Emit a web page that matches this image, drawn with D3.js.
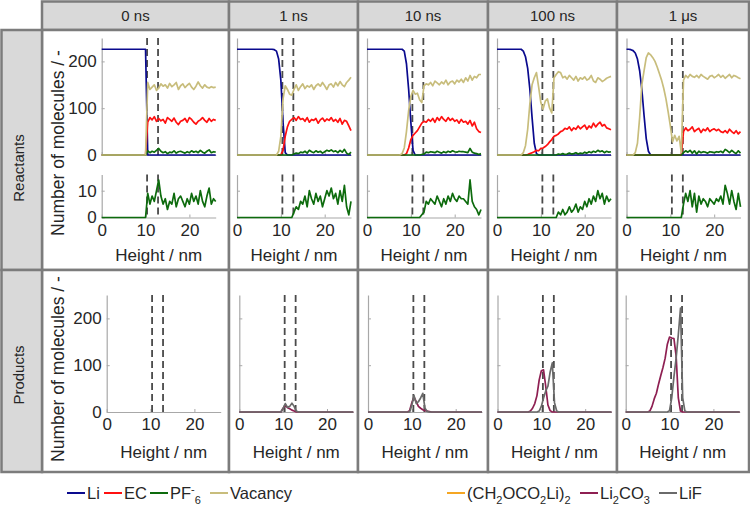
<!DOCTYPE html>
<html>
<head>
<meta charset="utf-8">
<script src="https://cdn.jsdelivr.net/npm/d3@7"></script>
<style>
  body { margin: 0; background: #fff; }
  text { font-family: "Liberation Sans", Arial, sans-serif; fill: #262626; }
</style>
</head>
<body>
<script>
// Height bins (nm)
var heightNm = [0,0.5,1,1.5,2,2.5,3,3.5,4,4.5,5,5.5,6,6.5,7,7.5,8,8.5,9,9.5,10,10.5,11,11.5,12,12.5,13,13.5,14,14.5,15,15.5,16,16.5,17,17.5,18,18.5,19,19.5,20,20.5,21,21.5,22,22.5,23,23.5,24,24.5,25,25.5,26];

var timeLabels = ["0 ns", "1 ns", "10 ns", "100 ns", "1 \u03bcs"];
var rowLabels = ["Reactants", "Products"];
var interfaceNm = [10.35, 12.85];
var countTicks = [0, 100, 200];
var pfTicks = [0, 10];
var heightTicks = [0, 10, 20];

// ---- Reactants, 0 ns
var li0ns = [226,226,226,226,226,226,226,226,226,226,
  226,226,226,226,226,226,226,226,226,226,
  226,0,0,0,0,0,0,0,0,0,
  0,0,0,0,0,0,0,0,0,0,
  0,0,0,0,0,0,0,0,0,0,
  0,0,0];
var ec0ns = [0,0,0,0,0,0,0,0,0,0,
  0,0,0,0,0,0,0,0,0,0,
  0,70,80,75,82,72,78,73,76,68,
  80,76,72,79,70,65,72,74,78,70,
  80,76,70,66,72,75,80,74,70,78,
  72,76,74];
var pf0ns = [0,0,0,0,0,0,0,0,0,0,
  0,0,0,0,0,0,0,0,0,0,
  0,9,5,8,6,10,14,8,5,7,
  3,6,5,9,4,7,8,6,4,7,
  5,9,6,8,5,10,6,4,8,11,
  5,7,6];
var vac0ns = [0,0,0,0,0,0,0,0,0,0,
  0,0,0,0,0,0,0,0,0,0,
  0,155,140,145,150,138,143,152,147,150,
  143,153,146,150,155,140,148,152,144,149,
  153,145,140,147,156,148,143,150,145,143,
  146,144,145];

// ---- Reactants, 1 ns
var li1ns = [226,226,226,226,226,226,226,226,226,226,
  226,226,226,226,226,226,226,225,222,205,
  160,70,5,0,0,0,0,0,0,0,
  0,0,0,0,0,0,0,0,0,0,
  0,0,0,0,0,0,0,0,0,0,
  0,0,0];
var ec1ns = [0,0,0,0,0,0,0,0,0,0,
  0,0,0,0,0,0,0,0,0,0,
  0,10,40,60,72,76,80,74,82,76,
  78,72,80,70,76,74,78,68,75,79,
  72,77,74,80,72,76,70,78,66,74,
  72,62,52];
var pf1ns = [0,0,0,0,0,0,0,0,0,0,
  0,0,0,0,0,0,0,0,0,0,
  0,0,0,0,0,0,2,4,3,6,
  5,8,4,10,7,5,9,6,8,4,
  7,10,8,11,7,9,5,10,6,12,
  4,1,6];
var vac1ns = [0,0,0,0,0,0,0,0,0,0,
  0,0,0,0,0,0,0,0,0,8,
  40,120,148,140,130,128,140,150,138,146,
  152,142,148,145,150,140,148,152,147,155,
  148,140,150,152,145,155,148,157,150,146,
  155,160,166];

// ---- Reactants, 10 ns
var li10ns = [226,226,226,226,226,226,226,226,226,226,
  226,226,226,226,226,226,226,222,195,140,
  70,10,0,0,0,0,0,0,0,0,
  0,0,0,0,0,0,0,0,0,0,
  0,0,0,0,0,0,0,0,0,0,
  0,0,0];
var ec10ns = [0,0,0,0,0,0,0,0,0,0,
  0,0,0,0,0,0,0,0,3,15,
  33,42,47,52,60,68,72,70,76,72,
  78,70,80,74,82,76,72,80,74,78,
  72,75,68,76,70,72,66,74,62,70,
  56,50,48];
var pf10ns = [0,0,0,0,0,0,0,0,0,0,
  0,0,0,0,0,0,0,0,0,0,
  0,0,0,0,0,1,2,6,5,7,
  6,5,8,6,4,7,5,8,6,9,
  7,6,8,7,7,6,5,14,6,4,
  3,1,3];
var vac10ns = [0,0,0,0,0,0,0,0,0,0,
  0,0,0,0,0,0,3,15,50,95,
  125,138,130,132,118,112,148,152,150,155,
  148,158,154,150,156,152,160,150,156,158,
  152,160,156,162,155,165,158,170,160,168,
  165,172,172];

// ---- Reactants, 100 ns
var li100ns = [226,226,226,226,226,226,226,226,226,226,
  226,226,222,210,185,140,80,25,3,0,
  0,0,0,0,0,0,0,0,0,0,
  0,0,0,0,0,0,0,0,0,0,
  0,0,0,0,0,0,0,0,0,0,
  0,0,0];
var ec100ns = [0,0,0,0,0,0,0,0,0,0,
  0,0,0,0,1,3,5,7,10,9,
  14,15,18,22,28,33,40,42,45,50,
  52,57,55,60,52,58,55,62,56,60,
  64,55,62,58,68,60,66,70,62,65,
  58,56,54];
var pf100ns = [0,0,0,0,0,0,0,0,0,0,
  0,0,0,0,0,0,0,0,0,0,
  0,0,0,0,0,0,0,0,2,1,
  3,1,2,4,2,3,5,2,4,3,
  6,4,7,5,8,6,10,7,9,5,
  8,6,7];
var vac100ns = [0,0,0,0,0,0,0,0,0,0,
  0,0,5,20,55,110,150,165,176,145,
  112,98,115,120,100,90,165,172,178,176,
  165,168,162,170,165,160,168,158,165,162,
  167,160,163,170,158,155,165,162,157,160,
  164,166,168];

// ---- Reactants, 1 us
var li1us = [226,226,225,223,218,205,180,140,85,35,
  8,0,0,0,0,0,0,0,0,0,
  0,0,0,0,0,0,0,0,0,0,
  0,0,0,0,0,0,0,0,0,0,
  0,0,0,0,0,0,0,0,0,0,
  0,0,0];
var ec1us = [0,0,0,0,0,0,0,0,0,0,
  0,0,0,0,0,0,0,0,0,0,
  0,0,0,0,0,0,50,58,52,55,
  60,50,54,57,48,55,52,58,50,54,
  56,52,55,50,48,52,47,55,50,46,
  52,45,50];
var pf1us = [0,0,0,0,0,0,0,0,0,0,
  0,0,0,0,0,0,0,0,0,0,
  0,0,0,0,0,0,5,9,6,10,
  4,9,2,8,5,7,6,4,7,6,
  5,7,6,8,5,12,9,5,10,6,
  3,9,4];
var vac1us = [0,0,0,0,5,25,80,150,180,208,
  218,214,208,200,188,174,160,142,120,92,
  62,28,42,30,40,5,160,170,165,172,
  168,166,170,165,172,168,165,162,168,170,
  165,168,172,166,170,164,168,172,165,170,
  168,165,163];

// ---- Products ((CH2OCO2Li)2 is listed in the legend but not visible in any panel)
var li2co3_1ns = [0,0,0,0,0,0,0,0,0,0,
  0,0,0,0,0,0,0,0,0,0,
  8,14,9,7,4,2,0,0,0,0,
  0,0,0,0,0,0,0,0,0,0,
  0,0,0,0,0,0,0,0,0,0,
  0,0,0];
var lif_1ns = [0,0,0,0,0,0,0,0,0,0,
  0,0,0,0,0,0,0,0,0,0,
  8,18,10,12,19,12,2,0,0,0,
  0,0,0,0,0,0,0,0,0,0,
  0,0,0,0,0,0,0,0,0,0,
  0,0,0];
var li2co3_10ns = [0,0,0,0,0,0,0,0,0,0,
  0,0,0,0,0,0,0,0,0,3,
  20,32,22,12,8,5,3,2,1,0,
  0,0,0,0,0,0,0,0,0,0,
  0,0,0,0,0,0,0,0,0,0,
  0,0,0];
var lif_10ns = [0,0,0,0,0,0,0,0,0,0,
  0,0,0,0,0,0,0,0,0,0,
  15,35,18,22,30,40,8,1,0,0,
  0,0,0,0,0,0,0,0,0,0,
  0,0,0,0,0,0,0,0,0,0,
  0,0,0];
var li2co3_100ns = [0,0,0,0,0,0,0,0,0,0,
  0,0,0,0,0,2,8,18,35,68,
  88,90,55,15,3,0,0,0,0,0,
  0,0,0,0,0,0,0,0,0,0,
  0,0,0,0,0,0,0,0,0,0,
  0,0,0];
var lif_100ns = [0,0,0,0,0,0,0,0,0,0,
  0,0,0,0,0,0,0,0,0,2,
  12,30,45,55,85,105,20,2,0,0,
  0,0,0,0,0,0,0,0,0,0,
  0,0,0,0,0,0,0,0,0,0,
  0,0,0];
var li2co3_1us = [0,0,0,0,0,0,0,0,0,0,
  0,2,12,28,40,60,78,95,115,145,
  160,158,157,120,30,2,0,0,0,0,
  0,0,0,0,0,0,0,0,0,0,
  0,0,0,0,0,0,0,0,0,0,
  0,0,0];
var lif_1us = [0,0,0,0,0,0,0,0,0,0,
  0,0,0,0,0,0,0,0,0,0,
  3,30,75,115,165,222,30,2,0,0,
  0,0,0,0,0,0,0,0,0,0,
  0,0,0,0,0,0,0,0,0,0,
  0,0,0];

var reactantSets = [
  [li0ns, ec0ns, pf0ns, vac0ns],
  [li1ns, ec1ns, pf1ns, vac1ns],
  [li10ns, ec10ns, pf10ns, vac10ns],
  [li100ns, ec100ns, pf100ns, vac100ns],
  [li1us, ec1us, pf1us, vac1us]
];
var productSets = [
  [],
  [li2co3_1ns, lif_1ns],
  [li2co3_10ns, lif_10ns],
  [li2co3_100ns, lif_100ns],
  [li2co3_1us, lif_1us]
];

var reactantColors = ["#0a0a8e", "#ff1010", "#0d6b0d", "#c8bd7c"];
var edcColor = "#f5a623";
var productColors = ["#8e1f52", "#6a6a6a"];

// ---- Layout
var svgWidth = 750, svgHeight = 508;
var colLeft = [42, 229, 358, 488, 617];
var colRight = [229, 358, 488, 617, 749];
var reactX0 = [101.7, 237, 367, 497, 626.5];
var prodX0 = [106.7, 239.3, 368, 497.5, 625.7];
var plotW = 114;
var gridColor = "#7c7c7c", cellFill = "#d9d9d9", axisColor = "#a8a8a8";

var svg = d3.select("body").append("svg")
  .attr("width", svgWidth)
  .attr("height", svgHeight);

// table cells
colLeft.forEach(function(l, i) {
  var w = colRight[i] - l;
  svg.append("rect").attr("x", l).attr("y", 1.5).attr("width", w).attr("height", 28.5)
    .attr("fill", cellFill).attr("stroke", gridColor).attr("stroke-width", 2.5);
  svg.append("rect").attr("x", l).attr("y", 30).attr("width", w).attr("height", 240)
    .attr("fill", "#fff").attr("stroke", gridColor).attr("stroke-width", 2.5);
  svg.append("rect").attr("x", l).attr("y", 270).attr("width", w).attr("height", 202)
    .attr("fill", "#fff").attr("stroke", gridColor).attr("stroke-width", 2.5);
  svg.append("text").attr("x", l + w / 2).attr("y", 21)
    .attr("text-anchor", "middle").attr("font-size", "15px").text(timeLabels[i]);
});
svg.append("rect").attr("x", 1.5).attr("y", 30).attr("width", 40.5).attr("height", 240)
  .attr("fill", cellFill).attr("stroke", gridColor).attr("stroke-width", 2.5);
svg.append("rect").attr("x", 1.5).attr("y", 270).attr("width", 40.5).attr("height", 202)
  .attr("fill", cellFill).attr("stroke", gridColor).attr("stroke-width", 2.5);
[[rowLabels[0], 168], [rowLabels[1], 375]].forEach(function(r) {
  svg.append("text").attr("transform", "translate(24," + r[1] + ") rotate(-90)")
    .attr("text-anchor", "middle").attr("font-size", "15px").text(r[0]);
});

// scales shared by every column
var yTop = d3.scaleLinear().domain([0, 250]).range([155, 38]);
var yPf = d3.scaleLinear().domain([0, 16]).range([217.5, 174.6]);
var yProd = d3.scaleLinear().domain([0, 250]).range([412, 295]);

function styleAxis(g) {
  g.attr("font-family", null).attr("font-size", null);
  g.select(".domain").attr("stroke", axisColor).attr("stroke-width", 1.2);
  g.selectAll(".tick line").attr("stroke", axisColor);
  g.selectAll(".tick text").attr("font-size", "17px").attr("fill", "#262626");
}

function yAxis(scale, ticks, x0, labelled) {
  svg.append("g").attr("transform", "translate(" + x0 + ",0)")
    .call(d3.axisLeft(scale).tickValues(ticks).tickSizeInner(-3).tickSizeOuter(0)
      .tickPadding(5).tickFormat(labelled ? d3.format("d") : ""))
    .call(styleAxis);
}
function xAxis(scale, y0, labelled) {
  svg.append("g").attr("transform", "translate(0," + y0 + ")")
    .call(d3.axisBottom(scale).tickValues(heightTicks).tickSizeInner(-3).tickSizeOuter(0)
      .tickPadding(6).tickFormat(labelled ? d3.format("d") : ""))
    .call(styleAxis);
}
function dashes(x, y) {
  interfaceNm.forEach(function(h) {
    svg.append("line")
      .attr("x1", x(h)).attr("x2", x(h))
      .attr("y1", y.range()[1]).attr("y2", y.range()[0])
      .attr("stroke", "#4a4a4a").attr("stroke-width", 1.8)
      .attr("stroke-dasharray", "7,4");
  });
}
function drawSeries(values, x, y, color) {
  var line = d3.line()
    .x(function(d, i) { return x(heightNm[i]); })
    .y(function(d) { return y(d); });
  svg.append("path").attr("d", line(values))
    .attr("fill", "none").attr("stroke", color)
    .attr("stroke-width", 1.7).attr("stroke-linejoin", "round");
}
function yLabel(cy) {
  svg.append("text").attr("transform", "translate(64," + cy + ") rotate(-90)")
    .attr("text-anchor", "middle").attr("font-size", "17.5px")
    .text("Number of molecules / -");
}

colLeft.forEach(function(l, i) {
  // reactants
  var x = d3.scaleLinear().domain([0, 26]).range([reactX0[i], reactX0[i] + plotW]);
  yAxis(yTop, countTicks, reactX0[i], i === 0);
  xAxis(x, yTop(0), false);
  yAxis(yPf, pfTicks, reactX0[i], i === 0);
  xAxis(x, yPf(0), true);
  dashes(x, yTop);
  dashes(x, yPf);
  reactantSets[i].forEach(function(s, k) {
    drawSeries(s, x, yTop, reactantColors[k]);
  });
  drawSeries(reactantSets[i][2], x, yPf, reactantColors[2]);
  svg.append("text").attr("x", reactX0[i] + plotW / 2).attr("y", 261)
    .attr("text-anchor", "middle").attr("font-size", "17px").text("Height / nm");

  // products
  var xp = d3.scaleLinear().domain([0, 26]).range([prodX0[i], prodX0[i] + plotW]);
  yAxis(yProd, countTicks, prodX0[i], i === 0);
  xAxis(xp, yProd(0), true);
  dashes(xp, yProd);
  productSets[i].forEach(function(s, k) {
    drawSeries(s, xp, yProd, productColors[k]);
  });
  svg.append("text").attr("x", prodX0[i] + plotW / 2).attr("y", 458)
    .attr("text-anchor", "middle").attr("font-size", "17px").text("Height / nm");
});
yLabel(143);
yLabel(369);

// ---- Legend
var legendY = 493;
function legendItem(x0, color, parts) {
  svg.append("line").attr("x1", x0).attr("x2", x0 + 18)
    .attr("y1", legendY).attr("y2", legendY)
    .attr("stroke", color).attr("stroke-width", 2);
  var t = svg.append("text").attr("x", x0 + 20).attr("y", legendY + 6)
    .attr("font-size", "16.5px");
  var shift = 0;
  parts.forEach(function(p) {
    var want = p[1] === "sub" ? 5 : p[1] === "sup" ? -6 : 0;
    t.append("tspan").attr("dy", want - shift)
      .attr("font-size", p[1] ? "11px" : null).text(p[0]);
    shift = want;
  });
}
legendItem(67, reactantColors[0], [["Li"]]);
legendItem(104, reactantColors[1], [["EC"]]);
legendItem(150, reactantColors[2], [["PF"], ["-", "sup"], ["6", "sub"]]);
legendItem(210, reactantColors[3], [["Vacancy"]]);
legendItem(447, edcColor, [["(CH"], ["2", "sub"], ["OCO"], ["2", "sub"], ["Li)"], ["2", "sub"]]);
legendItem(580, productColors[0], [["Li"], ["2", "sub"], ["CO"], ["3", "sub"]]);
legendItem(659, productColors[1], [["LiF"]]);
</script>
</body>
</html>
